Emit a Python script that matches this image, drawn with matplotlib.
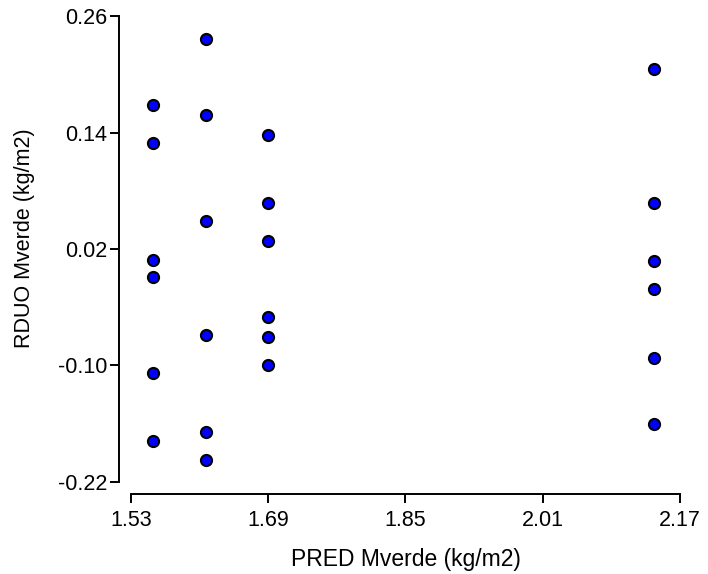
import matplotlib as mpl

mpl.use('Agg')
import matplotlib.pyplot as plt

# predicted mean value per group, and the residuals measured at each
pred_x = [1.556] * 6 + [1.618] * 6 + [1.690] * 6 + [2.140] * 6
rduo_y = [0.168, 0.129, 0.009, -0.009, -0.108, -0.178,
          0.236, 0.158, 0.049, -0.069, -0.168, -0.197,
          0.137, 0.067, 0.028, -0.050, -0.071, -0.100,
          0.205, 0.067, 0.008, -0.021, -0.092, -0.160]

x_ticks = [1.53, 1.69, 1.85, 2.01, 2.17]
y_ticks = [-0.22, -0.10, 0.02, 0.14, 0.26]

plt.rcParams['font.family'] = ['Liberation Sans', 'DejaVu Sans']

fig = plt.figure(figsize=(7.08, 5.74), dpi=100)
ax = fig.add_axes([0.185, 0.1603, 0.7754, 0.8118])

ax.scatter(pred_x, rduo_y, s=64, color='#0000ff', edgecolors='black',
           linewidths=1.5, zorder=3, clip_on=False)

ax.set_xlim(1.53, 2.17)
ax.set_ylim(-0.22, 0.26)
ax.set_xticks(x_ticks)
ax.set_yticks(y_ticks)
ax.set_xticklabels(['%.2f' % v for v in x_ticks])
ax.set_yticklabels(['%.2f' % v for v in y_ticks])

for side in ['top', 'right']:
    ax.spines[side].set_visible(False)
for side in ['left', 'bottom']:
    ax.spines[side].set_position(('outward', 8.6))
    ax.spines[side].set_linewidth(1.4)

ax.tick_params(axis='both', labelsize=15.5, width=1.4, length=6.5,
               color='black')
ax.tick_params(axis='x', pad=5)
ax.tick_params(axis='y', pad=2)

ax.set_xlabel('PRED Mverde (kg/m2)', fontsize=16.5, labelpad=12)
ax.set_ylabel('RDUO Mverde (kg/m2)', fontsize=15.5)
ax.yaxis.set_label_coords(-0.175, 0.524)

fig.savefig('out.png', dpi=100)
